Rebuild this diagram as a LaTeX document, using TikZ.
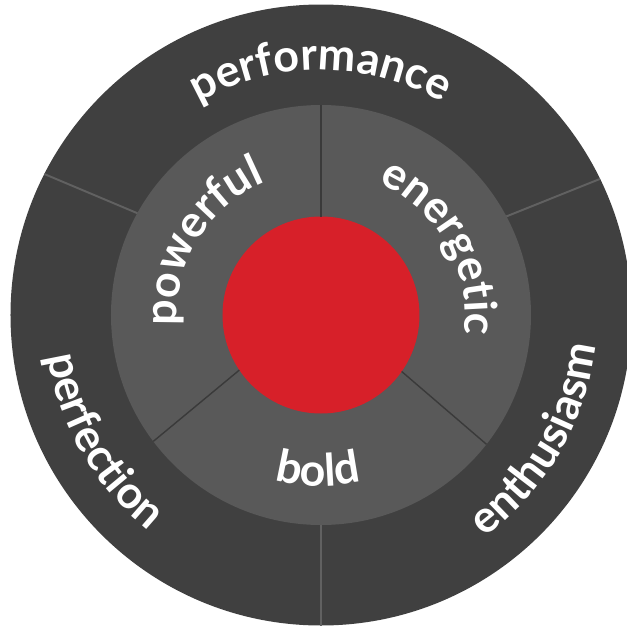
\documentclass[tikz,border=0pt]{standalone}
\usepackage{fontspec}
\setmainfont{Lato}
\usetikzlibrary{decorations.text}

\definecolor{ringdark}{HTML}{404040}
\definecolor{ringmid}{HTML}{595959}
\definecolor{corered}{HTML}{D72029}
\newcommand{\ringfont}{\fontsize{25.5}{30}\selectfont\bfseries\color{white}}

\begin{document}
\begin{tikzpicture}[
    disc/.style={
        circle,
        inner sep=0pt,
        outer sep=0pt,
        draw=none,
        fill=#1
    },
    outer cut/.style={draw=ringmid!95!white, line width=1.1pt},
    inner cut/.style={draw=ringdark!90!black, line width=0.8pt},
    arc label/.style={
        decorate,
        decoration={text along path, text align=center, text={|\ringfont|#1}}
    }
]
\useasboundingbox (-6.42,-6.3) rectangle (6.12,6.3);

% Rings and core
\node[disc=ringdark, minimum size=12.42cm] (outer) at (0,0) {};
\node[disc=ringmid,  minimum size=8.4cm]   (mid)   at (0,0) {};
\node[disc=corered,  minimum size=3.94cm]  (core)  at (0,0) {};

% Outer ring dividers
\draw[outer cut] (mid.151.7) -- (outer.153.1);
\draw[outer cut] (mid.28.3)  -- (outer.26.9);
\draw[outer cut] (mid.270)   -- (outer.270);

% Inner ring dividers
\draw[inner cut] (core.90)    -- (mid.90);
\draw[inner cut] (core.214.7) -- (mid.217.1);
\draw[inner cut] (core.325.3) -- (mid.322.9);

% Outer ring labels
\path[arc label=performance] (150:4.9) arc[start angle=150, end angle=30, radius=4.9];
\path[arc label=perfection]  (150:5.52) arc[start angle=150, end angle=270, radius=5.52];
\path[arc label=enthusiasm]  (270:5.52) arc[start angle=270, end angle=390, radius=5.52];

% Inner ring labels
\path[arc label=powerful]  (208.5:2.88) arc[start angle=208.5, end angle=88.5, radius=2.88];
\path[arc label=energetic] (89.5:2.88)  arc[start angle=89.5, end angle=-30.5, radius=2.88];
\path[arc label=bold]      (209:3.42)   arc[start angle=209, end angle=329, radius=3.42];

\end{tikzpicture}
\end{document}
